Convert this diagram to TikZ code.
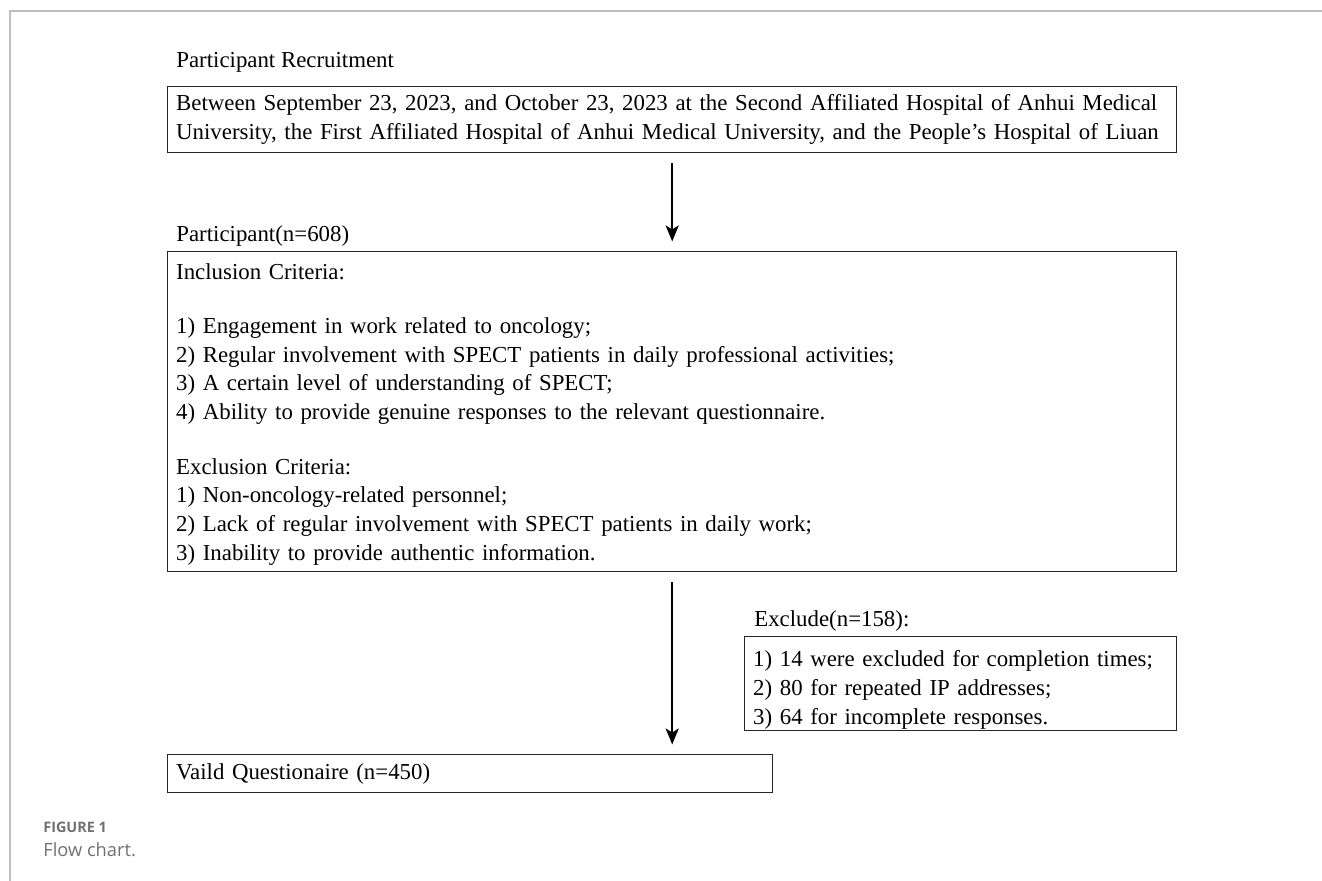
\documentclass[tikz,border=0pt]{standalone}
\usepackage{fontspec}
\setmainfont{Liberation Serif}
\newfontfamily\capfont{Open Sans}
\usetikzlibrary{arrows.meta}

\definecolor{framegray}{HTML}{BDBDBD}
\definecolor{capgray}{HTML}{707070}

\begin{document}
\begin{tikzpicture}
			\useasboundingbox (0,0) rectangle (26.44,-17.62);
			% outer frame
			\draw [framegray, line width=1.1pt] (0.2,-17.62) -- (0.2,-0.22) -- (26.44,-0.22);

			\begin{scope}[every node/.style={draw=black!85,line width=0.8pt,anchor=north west,align=left,
					inner xsep=0.17cm,inner ysep=0pt,font=\fontsize{13}{16.4}\selectfont}]
				\node (R) at (3.34,-1.72) [text width=19.84cm,minimum height=1.32cm]
					{Between September 23, 2023, and October 23, 2023 at the Second Affiliated Hospital of Anhui Medical\\
					 University, the First Affiliated Hospital of Anhui Medical University, and the People's Hospital of Liuan};
				\node (P) at (3.34,-5.02) [text width=19.84cm,minimum height=6.4cm]
					{\rule{0pt}{12pt}Inclusion Criteria:\\[14.5pt]
					 1) Engagement in work related to oncology;\\
					 2) Regular involvement with SPECT patients in daily professional activities;\\
					 3) A certain level of understanding of SPECT;\\
					 4) Ability to provide genuine responses to the relevant questionnaire.\\[14.5pt]
					 Exclusion Criteria:\\
					 1) Non-oncology-related personnel;\\
					 2) Lack of regular involvement with SPECT patients in daily work;\\
					 3) Inability to provide authentic information.};
				\node (E) at (14.88,-12.72) [text width=8.30cm,minimum height=1.88cm]
					{\rule{0pt}{16pt}1) 14 were excluded for completion times;\\
					 2) 80 for repeated IP addresses;\\
					 3) 64 for incomplete responses.};
				\node (V) at (3.34,-15.08) [text width=11.76cm,minimum height=0.76cm]
					{Vaild Questionaire (n=450)};
			\end{scope}

			\begin{scope}[every node/.style={anchor=base west,inner sep=0pt,font=\fontsize{13}{16.4}\selectfont}]
				\node (Rt) at (3.52,-1.36) {Participant Recruitment};
				\node (Pt) at (3.52,-4.84) {Participant(n=608)};
				\node (Et) at (15.08,-12.52) {Exclude(n=158):};
			\end{scope}

			\begin{scope}[every path/.style={line width=1.4pt,-{Stealth[length=0.32cm,width=0.26cm,inset=0.08cm]},
					shorten <=0.19cm,shorten >=0.19cm}]
				\path [draw] (R.south) -- (P.north);
				\path [draw] (P.south) -- (P.south |- V.north);
			\end{scope}

			% caption
			\node (F) at (0.86,-16.64) [anchor=base west,inner sep=0pt,text=capgray,font=\capfont\bfseries\fontsize{8.2}{10}\selectfont] {FIGURE 1};
			\node (C) at (0.86,-17.12) [anchor=base west,inner sep=0pt,text=capgray,font=\capfont\fontsize{10.4}{12}\selectfont] {Flow chart.};
		\end{tikzpicture}
\end{document}
